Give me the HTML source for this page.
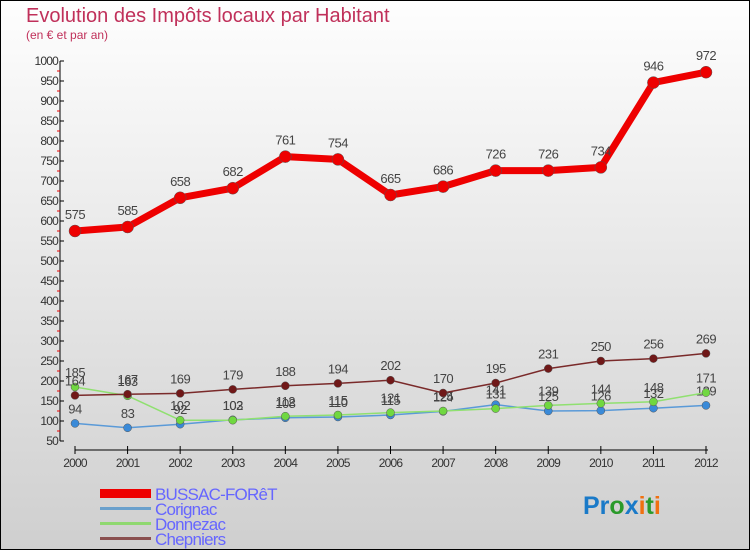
<!DOCTYPE html>
<html><head><meta charset="utf-8"><style>
body{margin:0;width:750px;height:550px;overflow:hidden}
svg{display:block;font-family:"Liberation Sans","DejaVu Sans",sans-serif}
</style></head><body>
<svg width="750" height="550" viewBox="0 0 750 550">
<defs><linearGradient id="bg" x1="0" y1="0" x2="0" y2="1"><stop offset="0" stop-color="#fefefe"/><stop offset="1" stop-color="#cfcfcf"/></linearGradient></defs>
<rect x="0.5" y="0.5" width="749" height="549" fill="url(#bg)" stroke="#000"/>
<text x="26" y="22" font-size="20" fill="#c0305a">Evolution des Impôts locaux par Habitant</text>
<text x="26" y="39" font-size="12" fill="#c0305a">(en € et par an)</text>
<g id="axes"></g>
<g id="series"></g>
<g>
<rect x="100" y="489" width="51" height="9" fill="#e00"/>
<text x="155" y="500" font-size="17" fill="#66f" letter-spacing="-0.8">BUSSAC-FORêT</text>
<rect x="100" y="507" width="51" height="3" fill="#6aa0cc"/>
<text x="155" y="515" font-size="17" fill="#66f" letter-spacing="-0.8">Corignac</text>
<rect x="100" y="522" width="51" height="3" fill="#8fd870"/>
<text x="155" y="530" font-size="17" fill="#66f" letter-spacing="-0.8">Donnezac</text>
<rect x="100" y="537" width="51" height="3" fill="#8a5050"/>
<text x="155" y="545" font-size="17" fill="#66f" letter-spacing="-0.8">Chepniers</text>
</g>
<text x="583" y="514" font-size="25" font-weight="bold"><tspan fill="#1a7ac8">Pr</tspan><tspan fill="#2a9a2a">o</tspan><tspan fill="#1a7ac8">x</tspan><tspan fill="#f07010">i</tspan><tspan fill="#2a9a2a">t</tspan><tspan fill="#f07010">i</tspan></text>
</svg>
<script>
const years=["2000","2001","2002","2003","2004","2005","2006","2007","2008","2009","2010","2011","2012"];
const bussac=[575,585,658,682,761,754,665,686,726,726,734,946,972];
const corignac=[94,83,92,103,108,110,115,124,141,125,126,132,139];
const donnezac=[185,163,102,102,112,115,121,125,131,139,144,148,171];
const chepniers=[164,167,169,179,188,194,202,170,195,231,250,256,269];
const yTicks=[50,100,150,200,250,300,350,400,450,500,550,600,650,700,750,800,850,900,950,1000];
const NS="http://www.w3.org/2000/svg";
const X=i=>75+i*(706-75)/12;
const Y=v=>441-(v-50)*380/950;
function mk(t,a,p){const e=document.createElementNS(NS,t);for(const k in a)e.setAttribute(k,a[k]);p.appendChild(e);return e;}
const ax=document.getElementById('axes');
const yl=mk('line',{x1:60,y1:61,x2:60,y2:441,stroke:'#000'},ax);


yTicks.forEach(v=>{
 mk('line',{x1:60,y1:Y(v),x2:64,y2:Y(v),stroke:'#000'},ax);
 if(v<1000)mk('line',{x1:57,y1:Y(v+25),x2:60,y2:Y(v+25),stroke:'#e00'},ax);
 const t=mk('text',{x:58,y:Y(v)+4,'font-size':12,'text-anchor':'end',fill:'#333','letter-spacing':'-0.8'},ax);
 t.textContent=v;
 
 
});
const xl=mk('line',{x1:75,y1:450,x2:708,y2:450,stroke:'#000'},ax);


years.forEach((y,i)=>{
 mk('line',{x1:X(i),y1:446,x2:X(i),y2:454,stroke:'#000'},ax);
 const t=mk('text',{x:X(i),y:467,'font-size':12,'text-anchor':'middle',fill:'#333','letter-spacing':'-0.8'},ax);
 t.textContent=y;
 
 
});
const sg=document.getElementById('series');
function series(name,data,color,w,r,dot){
 const g=mk('g',{},sg);
 
 
 const pl=mk('polyline',{points:data.map((v,i)=>X(i)+','+Y(v)).join(' '),fill:'none',stroke:color,'stroke-width':w,'stroke-linejoin':'round'},g);
 
 
 data.forEach((v,i)=>{
  const c=mk('circle',{cx:X(i),cy:Y(v),r:r,fill:dot,stroke:'#555','stroke-width':0.5},g);
  
  
  const t=mk('text',{x:X(i),y:Y(v)-r-6,'font-size':13,'text-anchor':'middle',fill:'#444','letter-spacing':'-0.5'},g);
  t.textContent=v;
  
  
 });
}
series('corignac',corignac,'#5a9ad8',1.5,4,'#3a8ad8');
series('donnezac',donnezac,'#90e070',1.5,4,'#70d840');
series('chepniers',chepniers,'#7a2a2a',1.5,4,'#701818');
series('bussac',bussac,'#ee0000',7,6,'#ee0000');
</script>
</body></html>
